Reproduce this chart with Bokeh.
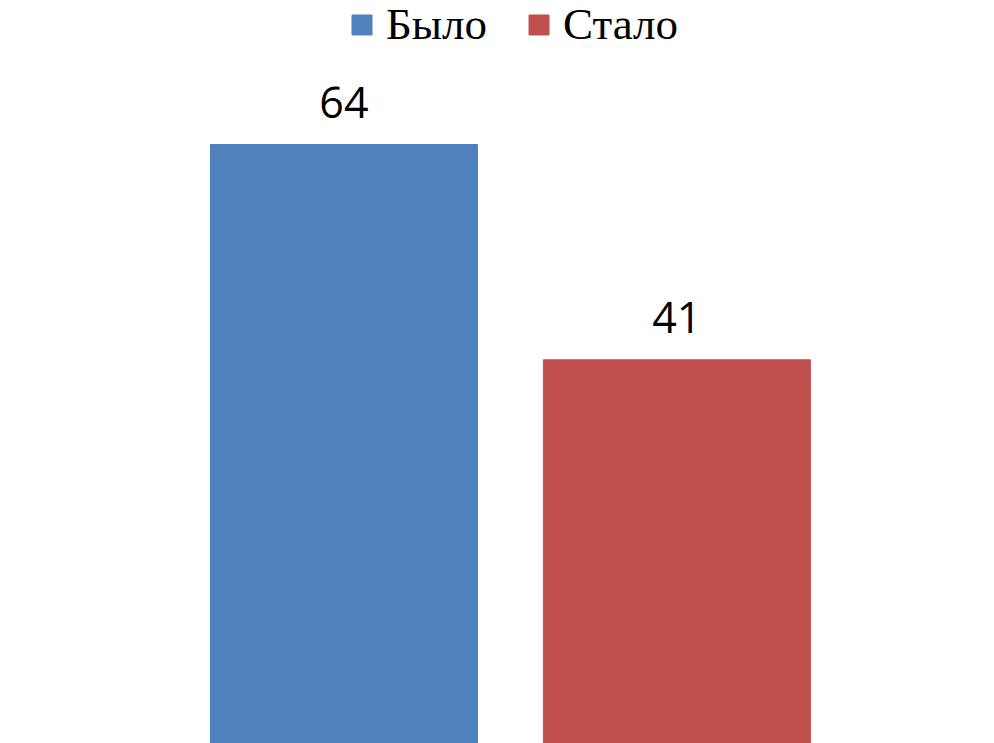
from bokeh.plotting import figure
from bokeh.models import ColumnDataSource, Legend, LegendItem, Range1d
from bokeh.core.properties import value
from bokeh.embed import file_html
from bokeh.resources import INLINE

categories = ["Было", "Стало"]
values = [64, 41]
colors = ["#4F81BD", "#C0504D"]
positions = [1, 2]

src = ColumnDataSource(dict(x=positions, top=values, color=colors, label=categories,
                            txt=[str(v) for v in values]))

p = figure(width=994, height=743, output_backend="svg", toolbar_location=None,
           x_range=Range1d(-0.0315, 2.954), y_range=Range1d(0, 79.39),
           min_border=0, min_border_left=0, min_border_right=0,
           min_border_top=0, min_border_bottom=0)
p.axis.visible = False
p.grid.visible = False
p.outline_line_color = None
p.background_fill_color = "white"
p.border_fill_color = "white"

r = p.vbar(x="x", top="top", width=0.802, bottom=0, color="color", source=src)

p.text(x="x", y="top", text="txt", source=src, text_align="center",
       text_baseline="alphabetic", y_offset=-42, text_font=value("Open Sans"),
       text_font_size="43px", text_color="black")

legend = Legend(items=[LegendItem(label=categories[i], renderers=[r], index=i) for i in range(len(categories))],
                orientation="horizontal", location=(349, 693))
legend.glyph_width = 25
legend.glyph_height = 25
legend.label_standoff = 12
legend.spacing = 39
legend.padding = 0
legend.margin = 0
legend.border_line_color = None
legend.background_fill_alpha = 0
legend.label_text_font = "Liberation Serif"
legend.label_text_font_size = "45px"
legend.label_text_color = "black"
p.add_layout(legend)

open("out.html", "w").write(file_html(p, INLINE))
